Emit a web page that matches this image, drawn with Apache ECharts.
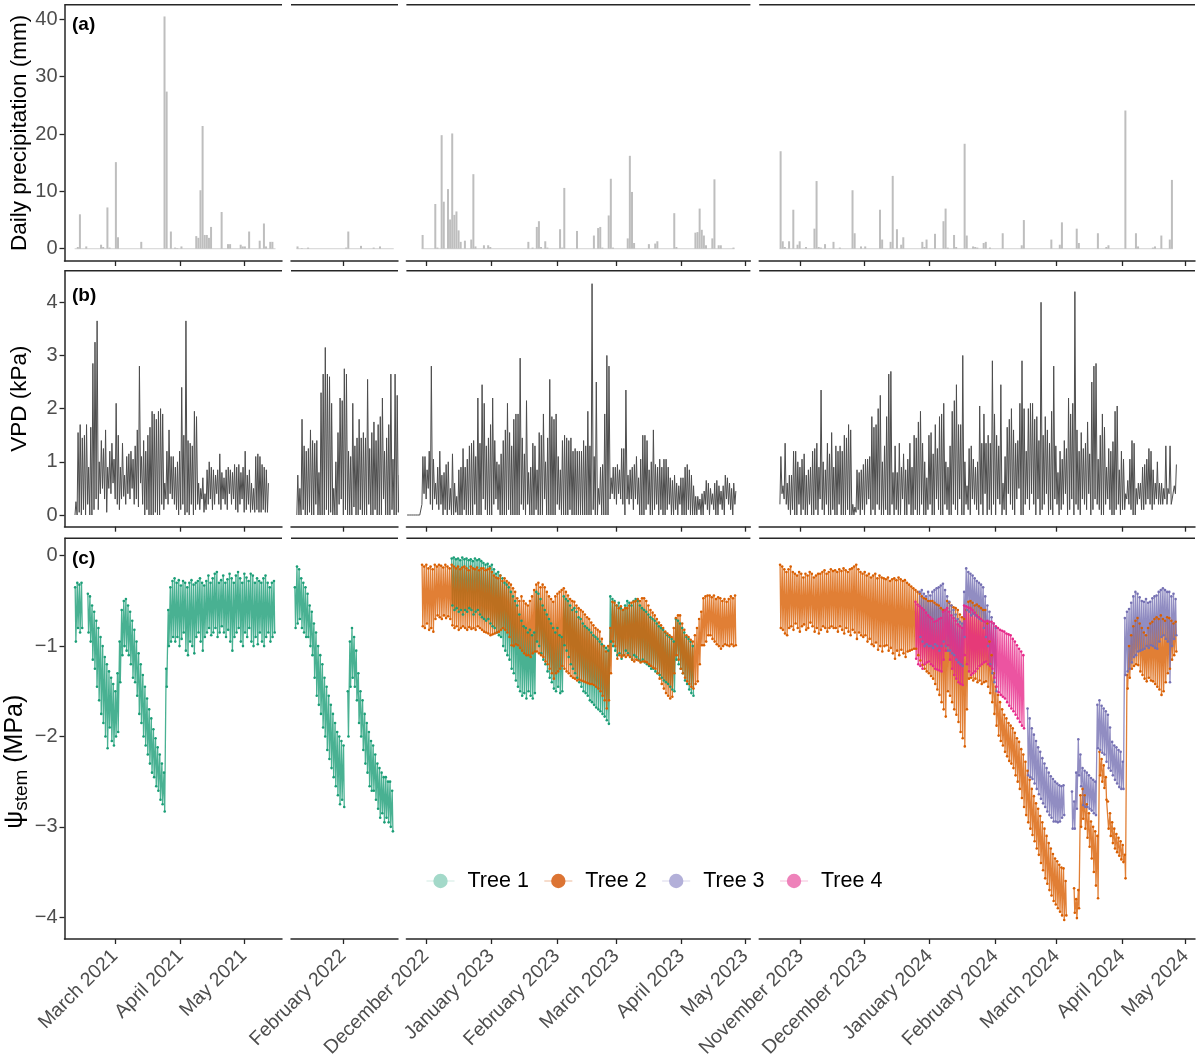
<!DOCTYPE html>
<html>
<head>
<meta charset="utf-8">
<title>Precipitation, VPD and stem water potential</title>
<script src="https://cdn.jsdelivr.net/npm/echarts@6/dist/echarts.min.js"></script>
<style>
  html, body { margin: 0; padding: 0; background: #fff; }
  #chart { width: 1200px; height: 1056px; }
</style>
</head>
<body>
<div id="chart"></div>
<script>
// ---- facet periods (one column each) ----
const periodStart = ['2021-02-05T05:00', '2022-01-07T10:00', '2022-11-21T20:00', '2023-10-12T09:00'];
const periodEnd = ['2021-05-19T01:00', '2022-02-27T00:00', '2023-05-03T12:00', '2024-05-05T10:00'];

const monthTicks = [
  ['2021-03-01', '2021-04-01', '2021-05-01'],
  ['2022-02-01'],
  ['2022-12-01', '2023-01-01', '2023-02-01', '2023-03-01', '2023-04-01', '2023-05-01'],
  ['2023-11-01', '2023-12-01', '2024-01-01', '2024-02-01', '2024-03-01', '2024-04-01', '2024-05-01']
];
const monthLabels = [
  ['March 2021', 'April 2021', 'May 2021'],
  ['February 2022'],
  ['December 2022', 'January 2023', 'February 2023', 'March 2023', 'April 2023', 'May 2023'],
  ['November 2023', 'December 2023', 'January 2024', 'February 2024', 'March 2024', 'April 2024', 'May 2024']
];
const rainTicks = [0, 10, 20, 30, 40];
const vpdTicks = [0, 1, 2, 3, 4];
const psiTicks = [0, -1, -2, -3, -4];

// ---- (a) daily precipitation, mm (days without rain left out) ----
const rainSpan = [['2021-02-10', '2021-05-15'], ['2022-01-10', '2022-02-24'], ['2022-11-29', '2023-04-25'], ['2023-10-22', '2024-04-24']];
const rain1 = [['2021-02-11', 0.3], ['2021-02-12', 6.0], ['2021-02-15', 0.4], ['2021-02-22', 0.7], ['2021-02-23', 0.3],
  ['2021-02-25', 7.2], ['2021-02-26', 0.2], ['2021-03-01', 15.1], ['2021-03-02', 2.0], ['2021-03-13', 1.2],
  ['2021-03-24', 40.5], ['2021-03-25', 27.4], ['2021-03-27', 3.0], ['2021-03-29', 0.2], ['2021-03-30', 0.1],
  ['2021-04-01', 0.4], ['2021-04-08', 2.2], ['2021-04-09', 1.9], ['2021-04-10', 10.2], ['2021-04-11', 21.4],
  ['2021-04-12', 2.4], ['2021-04-13', 2.4], ['2021-04-14', 1.9], ['2021-04-15', 3.8], ['2021-04-20', 6.4],
  ['2021-04-23', 0.8], ['2021-04-24', 0.8], ['2021-04-29', 0.7], ['2021-04-30', 0.4], ['2021-05-01', 0.4],
  ['2021-05-03', 3.0], ['2021-05-08', 1.4], ['2021-05-10', 4.4], ['2021-05-11', 0.4], ['2021-05-13', 1.2], ['2021-05-14', 1.2]];
const rain2 = [['2022-01-10', 0.4], ['2022-01-12', 0.1], ['2022-01-15', 0.2], ['2022-02-02', 0.2], ['2022-02-03', 3.0],
  ['2022-02-09', 0.5], ['2022-02-15', 0.2], ['2022-02-18', 0.4]];
const rain3 = [['2022-11-29', 2.4], ['2022-12-05', 7.8], ['2022-12-06', 0.2], ['2022-12-08', 19.8], ['2022-12-09', 8.2],
  ['2022-12-11', 10.4], ['2022-12-12', 5.1], ['2022-12-13', 20.1], ['2022-12-14', 5.9], ['2022-12-15', 6.5],
  ['2022-12-16', 3.2], ['2022-12-17', 1.2], ['2022-12-19', 1.4], ['2022-12-22', 1.6], ['2022-12-23', 13.0],
  ['2022-12-24', 0.4], ['2022-12-28', 0.6], ['2022-12-30', 0.6], ['2022-12-31', 0.3], ['2023-01-18', 1.2],
  ['2023-01-20', 0.2], ['2023-01-22', 3.8], ['2023-01-23', 4.8], ['2023-01-24', 0.3], ['2023-01-26', 1.3],
  ['2023-01-27', 0.2], ['2023-02-02', 3.4], ['2023-02-03', 0.2], ['2023-02-04', 10.6], ['2023-02-10', 3.1],
  ['2023-02-18', 2.3], ['2023-02-20', 3.6], ['2023-02-21', 3.8], ['2023-02-22', 0.2], ['2023-02-25', 5.8],
  ['2023-02-26', 12.2], ['2023-02-27', 0.2], ['2023-03-06', 1.8], ['2023-03-07', 16.2], ['2023-03-08', 9.9],
  ['2023-03-09', 1.0], ['2023-03-16', 0.8], ['2023-03-19', 0.9], ['2023-03-20', 1.3], ['2023-03-28', 6.2],
  ['2023-03-29', 0.3], ['2023-04-07', 2.8], ['2023-04-08', 2.9], ['2023-04-09', 7.0], ['2023-04-10', 3.3],
  ['2023-04-11', 2.3], ['2023-04-12', 0.6], ['2023-04-15', 1.8], ['2023-04-16', 12.1], ['2023-04-18', 0.6],
  ['2023-04-19', 0.6], ['2023-04-25', 0.2]];
const rain4 = [['2023-10-22', 17.0], ['2023-10-23', 1.3], ['2023-10-24', 0.3], ['2023-10-26', 1.3], ['2023-10-28', 6.8],
  ['2023-10-30', 0.7], ['2023-10-31', 1.3], ['2023-11-03', 0.3], ['2023-11-07', 3.5], ['2023-11-08', 11.8],
  ['2023-11-09', 0.3], ['2023-11-10', 0.2], ['2023-11-12', 0.8], ['2023-11-16', 1.2], ['2023-11-19', 0.2],
  ['2023-11-25', 10.2], ['2023-11-26', 2.7], ['2023-11-29', 0.4], ['2023-12-01', 0.4], ['2023-12-08', 6.8],
  ['2023-12-09', 1.6], ['2023-12-13', 1.2], ['2023-12-14', 12.7], ['2023-12-16', 3.4], ['2023-12-18', 0.7],
  ['2023-12-19', 2.0], ['2023-12-28', 1.2], ['2023-12-29', 0.3], ['2023-12-30', 1.6], ['2024-01-03', 2.6],
  ['2024-01-07', 4.8], ['2024-01-08', 7.0], ['2024-01-09', 0.2], ['2024-01-12', 2.4], ['2024-01-13', 0.3],
  ['2024-01-17', 18.3], ['2024-01-18', 2.3], ['2024-01-21', 0.4], ['2024-01-22', 0.3], ['2024-01-23', 0.2],
  ['2024-01-26', 1.0], ['2024-01-27', 1.2], ['2024-01-29', 0.2], ['2024-02-04', 2.7], ['2024-02-13', 0.6],
  ['2024-02-14', 5.0], ['2024-02-27', 1.6], ['2024-03-02', 0.7], ['2024-03-03', 4.6], ['2024-03-10', 3.5],
  ['2024-03-11', 1.0], ['2024-03-20', 2.7], ['2024-03-24', 0.3], ['2024-03-25', 0.6], ['2024-04-02', 24.1],
  ['2024-04-07', 2.7], ['2024-04-08', 0.4], ['2024-04-15', 0.2], ['2024-04-16', 0.4], ['2024-04-19', 2.3],
  ['2024-04-23', 1.6], ['2024-04-24', 12.0]];

// ---- (b) VPD, kPa: daily afternoon peak and night minimum ----
const vpdStart = ['2021-02-10', '2022-01-10', '2022-11-22', '2023-10-22'];
const vpdPeak1 = [0.25, 1.55, 1.7, 1.45, 1.5, 1.7, 0.9, 1.65, 2.85, 3.25,
  3.65, 1.0, 1.4, 1.25, 1.6, 0.9, 1.2, 1.35, 1.05, 2.1,
  1.5, 0.9, 1.35, 0.75, 1.1, 1.15, 1.2, 1.05, 1.3, 1.6,
  2.8, 1.1, 1.4, 1.2, 1.5, 1.65, 1.95, 1.9, 1.8, 1.95,
  2.0, 1.9, 0.6, 1.2, 1.6, 1.1, 1.1, 0.9, 1.0, 1.2,
  2.4, 1.5, 3.65, 1.4, 1.35, 1.3, 1.95, 1.85, 0.6, 0.5,
  0.7, 0.4, 0.85, 1.0, 0.9, 0.85, 0.75, 0.85, 1.15, 0.8,
  0.7, 0.85, 0.9, 0.85, 0.8, 0.95, 0.9, 0.95, 0.8, 0.9,
  1.2, 0.75, 0.85, 0.6, 0.5, 1.1, 1.15, 1.1, 0.95, 0.9,
  0.85, 0.6];
const vpdMin1 = [0, 0, 0.05, 0, 0.1, 0, 0.2, 0, 0, 0.1,
  0.3, 0.1, 0.4, 0.5, 0.3, 0.05, 0.5, 0.4, 0.6, 0.3,
  0.2, 0.1, 0.3, 0.35, 0.2, 0.4, 0.3, 0.5, 0.2, 0.3,
  0.15, 0.6, 0.2, 0, 0.1, 0, 0, 0, 0.05, 0,
  0, 0.2, 0.1, 0.3, 0.2, 0.4, 0.3, 0.2, 0.1, 0,
  0.1, 0.2, 0, 0.05, 0, 0.2, 0, 0.1, 0.2, 0.1,
  0.3, 0.05, 0.1, 0.2, 0.3, 0.1, 0.2, 0.4, 0.2, 0.1,
  0.3, 0.2, 0.1, 0.4, 0.2, 0.3, 0.1, 0.05, 0.2, 0.3,
  0.05, 0.1, 0.2, 0.05, 0.1, 0.05, 0.1, 0.05, 0.05, 0.1,
  0.05, 0.05];
const vpdPeak2 = [0.75, 0.5, 1.8, 1.3, 1.2, 1.25, 1.6, 1.4, 1.35, 1.4,
  0.8, 2.3, 2.65, 3.15, 2.65, 2.6, 2.1, 0.5, 1.0, 1.55,
  2.2, 2.15, 2.75, 2.65, 1.2, 1.1, 2.1, 1.3, 1.45, 1.8,
  1.45, 1.55, 1.45, 2.55, 1.25, 1.55, 1.75, 1.4, 1.7, 1.85,
  2.2, 1.2, 1.45, 1.7, 2.65, 1.05, 2.65, 2.25, 0.75, 1.5];
const vpdMin2 = [0, 0, 0, 0.1, 0, 0, 0.05, 0, 0, 0.2,
  0, 0, 0, 0, 0.1, 0, 0.05, 0, 0, 0,
  0.2, 0.3, 0, 0.1, 0, 0, 0, 0.15, 0, 0,
  0.1, 0, 0, 0, 0.2, 0, 0, 0.1, 0, 0,
  0, 0.3, 0, 0, 0, 0.1, 0, 0, 0.05, 0];
const vpdPeak3 = [0, 0, 0, 0, 0, 0, 0,
  1.1, 1.1, 0.85, 1.2, 2.8, 1.05, 0.6, 0.9, 1.2, 0.75,
  0.8, 0.95, 1.0, 0.5, 1.15, 0.6, 0.35, 0.85, 0.9, 1.25,
  0.9, 1.05, 1.3, 1.35, 1.4, 1.1, 2.2, 1.35, 2.45, 2.1,
  1.3, 1.45, 1.7, 2.2, 1.4, 1.0, 0.95, 1.15, 1.4, 1.6,
  2.1, 1.55, 1.3, 1.8, 1.9, 1.9, 2.95, 1.45, 1.15, 2.15,
  0.8, 0.9, 1.35, 1.3, 0.85, 1.55, 1.5, 1.9, 1.0, 1.45,
  2.55, 1.85, 1.8, 1.9, 1.1, 0.85, 1.4, 1.5, 1.45, 1.4,
  1.45, 1.2, 1.25, 1.2, 1.2, 1.2, 1.4, 1.3, 1.95, 1.3,
  4.35, 1.1, 2.5, 0.5, 0.9, 0.95, 1.9, 3.0, 2.8, 0.7,
  0.9, 0.9, 0.95, 0.85, 1.25, 1.25, 2.35, 0.75, 0.85, 0.9,
  0.95, 1.1, 0.7, 1.05, 1.5, 1.5, 1.4, 0.85, 1.0, 1.6,
  0.95, 0.9, 1.05, 0.9, 1.05, 1.05, 0.9, 0.7, 0.65, 0.75,
  0.6, 0.55, 0.7, 0.7, 0.9, 0.95, 0.85, 0.75, 0.55, 0.35,
  0.35, 0.3, 0.4, 0.45, 0.65, 0.6, 0.5, 0.4, 0.6, 0.65,
  0.55, 0.45, 0.55, 0.75, 0.7, 0.6, 0.5, 0.6, 0.45];
const vpdMin3 = [0, 0, 0, 0, 0, 0, 0,
  0.2, 0.4, 0.3, 0.5, 0.2, 0.1, 0.3, 0.2, 0.1, 0.2,
  0, 0.1, 0, 0.1, 0, 0, 0.05, 0, 0, 0,
  0.1, 0, 0, 0, 0, 0.2, 0, 0, 0, 0.3,
  0.1, 0, 0, 0, 0.2, 0.3, 0.1, 0, 0, 0,
  0, 0.1, 0, 0, 0, 0, 0, 0.2, 0.1, 0,
  0.2, 0, 0, 0, 0.1, 0, 0, 0, 0.3, 0,
  0, 0, 0, 0, 0.2, 0.1, 0, 0, 0, 0,
  0.1, 0, 0, 0, 0, 0, 0, 0, 0, 0,
  0, 0.1, 0, 0, 0.2, 0, 0, 0, 0, 0.3,
  0.4, 0.3, 0.2, 0.4, 0.3, 0.2, 0, 0.3, 0.2, 0.3,
  0.1, 0.3, 0.2, 0, 0, 0, 0.1, 0.2, 0, 0,
  0.1, 0.2, 0, 0.1, 0, 0, 0.1, 0.2, 0, 0,
  0.1, 0, 0.2, 0, 0, 0, 0.1, 0, 0, 0,
  0, 0.1, 0, 0, 0.2, 0.1, 0, 0.2, 0.1, 0,
  0, 0.2, 0.1, 0, 0.3, 0.2, 0.1, 0, 0.2];
const vpdPeak4 = [1.1, 0.55, 1.35, 0.6, 0.75, 0.75, 1.2, 1.2, 1.0, 0.9,
  1.05, 1.15, 0.75, 0.85, 0.9, 1.2, 1.25, 1.35, 0.9, 2.35,
  1.0, 0.85, 1.35, 1.15, 1.55, 0.9, 1.3, 1.2, 1.3, 1.2,
  1.5, 1.45, 1.7, 1.6, 0.2, 0.15, 0.85, 0.8, 0.85, 0.95,
  1.05, 1.05, 1.1, 1.85, 1.65, 1.7, 2.0, 2.25, 1.0, 1.3,
  1.85, 2.65, 2.7, 0.8, 1.3, 0.8, 1.35, 0.9, 1.15, 0.85,
  1.05, 1.35, 0.9, 1.5, 1.45, 1.75, 1.95, 1.35, 1.0, 0.7,
  1.5, 1.55, 1.15, 1.7, 1.25, 1.85, 1.9, 2.1, 1.0, 0.9,
  1.3, 1.95, 2.15, 2.45, 1.7, 1.7, 3.0, 1.0, 0.55, 1.25,
  1.3, 1.05, 0.9, 1.0, 2.05, 1.35, 1.9, 1.35, 1.5, 1.35,
  2.9, 1.9, 1.5, 1.3, 2.45, 0.6, 1.1, 1.65, 1.8, 2.0,
  1.6, 1.35, 1.4, 2.1, 2.9, 2.0, 1.2, 2.0, 2.1, 2.1,
  1.8, 1.85, 1.4, 4.0, 1.5, 1.85, 1.6, 1.35, 1.95, 2.8,
  1.3, 0.8, 1.2, 1.05, 1.4, 1.25, 2.2, 1.9, 2.1, 4.2,
  1.6, 1.2, 1.55, 1.25, 1.35, 1.75, 1.15, 2.5, 2.8, 2.85,
  1.05, 1.5, 1.9, 1.65, 0.9, 1.25, 1.2, 1.38, 1.95, 2.05,
  0.85, 1.2, 1.05, 0.4, 0.65, 1.05, 1.4, 1.35, 0.5, 0.6,
  0.6, 0.9, 0.95, 1.05, 1.25, 1.2, 0.85, 0.6, 1.0, 0.6,
  0.6, 0.5, 1.3, 0.5, 1.3, 0.3, 0.55, 0.95];
const vpdMin4 = [0.2, 0.4, 0.3, 0.2, 0.1, 0, 0.1, 0, 0, 0.2,
  0, 0.1, 0, 0, 0.2, 0, 0, 0.1, 0, 0.3,
  0.1, 0, 0.2, 0, 0, 0.1, 0, 0, 0.2, 0,
  0, 0, 0.1, 0, 0, 0, 0.05, 0.1, 0, 0.1,
  0, 0.2, 0.3, 0, 0.1, 0, 0.2, 0.1, 0, 0,
  0.1, 0, 0, 0.2, 0, 0.1, 0, 0, 0.3, 0,
  0, 0.2, 0, 0, 0.1, 0, 0, 0.2, 0, 0,
  0.1, 0.2, 0, 0, 0.3, 0.1, 0, 0, 0.2, 0.1,
  0, 0, 0.2, 0.1, 0, 0.3, 0, 0, 0.2, 0.1,
  0, 0.3, 0.2, 0.1, 0, 0.2, 0, 0.4, 0, 0.1,
  0, 0.2, 0, 0.3, 0.2, 0, 0.1, 0, 0.4, 0.2,
  0.1, 0, 0.3, 0.5, 0, 0, 0.2, 0.3, 0.1, 0.4,
  0.2, 0, 0.3, 0, 0.1, 0.2, 0.4, 0, 0.1, 0,
  0.3, 0.2, 0, 0.1, 0.2, 0.4, 0, 0.1, 0.3, 0,
  0.2, 0.1, 0, 0.3, 0.2, 0.1, 0.4, 0, 0.1, 0.3,
  0.2, 0.1, 0, 0, 0.2, 0.3, 0.1, 0, 0, 0.1,
  0.2, 0, 0.1, 0.1, 0.3, 0.2, 0.1, 0, 0, 0.2,
  0.3, 0.1, 0.1, 0.2, 0.3, 0.2, 0.1, 0.2, 0.3, 0.2,
  0.2, 0.2, 0.3, 0.2, 0.4, 0.2, 0.3, 0.4];

// ---- (c) stem water potential, MPa: daily predawn (up) and midday (lo) ----
const treeNames = ['Tree 1', 'Tree 2', 'Tree 3', 'Tree 4'];
const t1aUp = [-0.35, -0.3, -0.32, -0.3, null, null,
  -0.42, -0.45, -0.55, -0.62, -0.72, -0.8, -0.9, -1.0, -1.12, -1.2, -1.28, -1.35, -1.42, -1.5,
  -1.3, -0.95, -0.6, -0.5, -0.48,
  -0.55, -0.62, -0.72, -0.82, -0.95, -1.08, -1.2, -1.32, -1.45, -1.58, -1.7, -1.8, -1.92, -2.02, -2.12, -2.2, -2.3, -2.4,
  -1.25, -0.6, -0.35, -0.28,
  -0.25, -0.3, -0.27, -0.33, -0.28, -0.3, -0.35, -0.3, -0.27, -0.32,
  -0.3, -0.28, -0.25, -0.3, -0.33, -0.28, -0.22, -0.3, -0.25, -0.2,
  -0.18, -0.3, -0.27, -0.22, -0.3, -0.26, -0.2, -0.25, -0.3, -0.22,
  -0.18, -0.25, -0.3, -0.2, -0.24, -0.28, -0.2, -0.22, -0.3, -0.25,
  -0.28, -0.3, -0.25, -0.22, -0.3, -0.35, -0.3, -0.28];
const t1aLo = [-0.95, -0.8, -0.85, -0.8, null, null,
  -0.85, -0.95, -1.15, -1.25, -1.45, -1.6, -1.75, -1.85, -2.0, -2.13, -1.9, -2.05, -2.1, -2.0,
  -1.95, -1.4, -1.1, -1.0, -1.05,
  -1.1, -1.2, -1.35, -1.4, -1.55, -1.75, -1.85, -2.0, -2.1, -2.2, -2.3, -2.4, -2.45, -2.55, -2.6, -2.7, -2.75, -2.83,
  -1.45, -1.0, -0.95, -0.9,
  -0.95, -0.9, -1.0, -0.92, -0.85, -1.05, -1.1, -0.95, -1.0, -1.08,
  -0.9, -0.85, -0.95, -1.05, -0.9, -0.85, -0.8, -0.88, -0.85, -0.8,
  -0.9, -0.85, -0.78, -0.85, -0.9, -0.82, -0.95, -1.05, -0.9, -0.85,
  -0.8, -0.95, -1.0, -0.85, -0.9, -0.8, -0.95, -1.0, -0.9, -0.98,
  -0.85, -0.95, -1.0, -0.9, -0.85, -0.95, -0.9, -0.85];
const t1bUp = [-0.35, -0.12, -0.15, -0.25, -0.3, -0.35, -0.42, -0.55, -0.62, -0.75,
  -0.85, -1.0, -1.1, -1.2, -1.35, -1.45, -1.55, -1.65, -1.75, -1.85,
  -1.95, -2.0, -2.05, -2.1, null, -1.5, -0.95, -0.8, -0.9, -1.05,
  -1.3, -1.5, -1.6, -1.75, -1.85, -1.95, -2.05, -2.1, -2.2, -2.3,
  -2.35, -2.4, -2.45, -2.45, -2.5, -2.5, -2.6];
const t1bLo = [-0.8, -0.75, -0.7, -0.8, -0.85, -0.9, -0.9, -1.0, -1.1, -1.35,
  -1.55, -1.65, -1.75, -1.9, -2.0, -2.15, -2.25, -2.35, -2.45, -2.55,
  -2.65, -2.75, -2.7, -2.78, null, -2.0, -1.45, -1.35, -1.45, -1.6,
  -1.85, -2.0, -2.15, -2.3, -2.4, -2.55, -2.6, -2.6, -2.7, -2.8,
  -2.9, -2.85, -2.95, -2.9, -2.95, -3.0, -3.05];
const t1cUp = [-0.03, -0.02, -0.04, -0.03, -0.05, -0.02, -0.04, -0.03, -0.05, -0.04, -0.06, -0.03, -0.05, -0.04, -0.06,
  -0.08, -0.1, -0.09, -0.12, -0.1, -0.15, -0.2, -0.18, -0.22, -0.25, -0.3, -0.32, -0.35,
  -0.4, -0.45, -0.5, -0.55, -0.65, -0.72, -0.78, -0.8, -0.85, -0.82, -0.88, -0.85,
  -0.4, -0.42, -0.48, -0.55, -0.6, -0.65, -0.7, -0.75, -0.8, -0.85, -0.8, -0.88, -0.9,
  -0.45, -0.48, -0.5, -0.55, -0.6, -0.58, -0.62, -0.68, -0.7, -0.75, -0.78, -0.8, -0.82, -0.85, -0.88, -0.9,
  -0.92, -0.95, -0.98, -1.0, -1.02, -1.05,
  -0.45, -0.48,
  -0.5, -0.55, -0.52, -0.58, -0.6, -0.55, -0.5, -0.52, -0.55, -0.5, -0.48, -0.5, -0.55, -0.58, -0.6, -0.62,
  -0.65, -0.68, -0.7, -0.72, -0.75, -0.78, -0.8, -0.82, -0.85,
  -0.88, -0.9, -0.92, -0.95,
  -0.7, -0.72, -0.75, -0.8, -0.85, -0.9, -0.92, -0.95, -1.0];
const t1cLo = [-0.55, -0.6, -0.58, -0.62, -0.6, -0.65, -0.6, -0.62, -0.58, -0.6, -0.65, -0.62, -0.6, -0.65, -0.68,
  -0.7, -0.72, -0.7, -0.75, -0.78, -0.8, -0.85, -0.88, -0.9, -1.0, -1.05, -1.1, -1.15,
  -1.25, -1.3, -1.38, -1.45, -1.5, -1.55, -1.52, -1.58, -1.5, -1.55, -1.58, -1.52,
  -0.95, -1.0, -1.08, -1.15, -1.2, -1.28, -1.35, -1.4, -1.47, -1.5, -1.45, -1.52, -1.5,
  -0.99, -1.05, -1.12, -1.2, -1.25, -1.3, -1.35, -1.4, -1.45, -1.5, -1.52, -1.55, -1.6, -1.62, -1.65, -1.68,
  -1.7, -1.72, -1.75, -1.78, -1.82, -1.86,
  -0.95, -1.0,
  -1.05, -1.1, -1.08, -1.14, -1.1, -1.05, -1.08, -1.12, -1.15, -1.1, -1.12, -1.15, -1.17, -1.15, -1.18, -1.2,
  -1.22, -1.25, -1.25, -1.28, -1.3, -1.32, -1.35, -1.38, -1.4,
  -1.42, -1.45, -1.48, -1.5,
  -1.15, -1.2, -1.25, -1.3, -1.38, -1.42, -1.48, -1.52, -1.55];
const t2cUp = [-0.1, -0.12, -0.1, -0.14, -0.12, -0.15, -0.1, -0.12, -0.1, -0.11, -0.13, -0.1, -0.12, -0.14,
  -0.1, -0.12, -0.14, -0.12, -0.15, -0.13, -0.12, -0.14, -0.16, -0.12, -0.14, -0.15, -0.13, -0.16, -0.14,
  -0.14, -0.16, -0.15, -0.14, -0.18, -0.22, -0.24,
  -0.25, -0.22, -0.28, -0.25, -0.28, -0.3,
  -0.32, -0.36, -0.4, -0.47, -0.5, -0.45, -0.5, -0.53,
  -0.55, -0.5, -0.45, -0.38,
  -0.32, -0.3, -0.35, -0.32, -0.35, -0.4, -0.45, -0.48,
  -0.51, -0.45, -0.42, -0.4, -0.38,
  -0.36, -0.4, -0.44, -0.48, -0.5,
  -0.51, -0.55, -0.58, -0.6,
  -0.62, -0.65, -0.68, -0.7, -0.74,
  -0.77, -0.8, -0.82, -0.84, -0.92, -1.0,
  -1.06, -1.0, -0.8,
  -0.51, -0.52,
  -0.55, -0.58, -0.56, -0.6, -0.58,
  -0.58, -0.55, -0.52,
  -0.51, -0.5, -0.48, -0.5, -0.47,
  -0.47, -0.5, -0.55, -0.6, -0.63,
  -0.66, -0.7, -0.74, -0.77,
  -0.8, -0.84, -0.86,
  -0.88, -0.9, -0.8,
  -0.69, -0.66,
  -0.66, -0.75, -0.82,
  -0.88, -0.9, -0.93,
  -0.95, -0.88,
  -0.8, -0.7,
  -0.62, -0.47, -0.45, -0.44,
  -0.44, -0.46, -0.44, -0.48, -0.46,
  -0.47, -0.5, -0.48,
  -0.51, -0.48, -0.45, -0.47, -0.44];
const t2cLo = [-0.78, -0.8, -0.75, -0.82, -0.8, -0.84, -0.7, -0.66, -0.68, -0.7, -0.66, -0.69, -0.67, -0.7,
  -0.77, -0.8, -0.78, -0.82, -0.8, -0.78, -0.8, -0.82, -0.79, -0.81, -0.8, -0.82, -0.78, -0.8, -0.82,
  -0.84, -0.85, -0.86, -0.88, -0.87, -0.86, -0.85,
  -0.84, -0.82, -0.8, -0.82, -0.85, -0.9,
  -0.99, -1.0, -0.98, -0.99, -1.02, -1.05, -1.08, -1.1,
  -1.1, -1.12, -1.08, -1.06,
  -1.06, -1.08, -1.1, -1.12, -1.17, -1.2, -1.25, -1.3,
  -1.36, -1.3, -1.28, -1.25, -1.22,
  -1.25, -1.28, -1.3, -1.33, -1.35,
  -1.36, -1.38, -1.37, -1.38,
  -1.39, -1.4, -1.41, -1.42, -1.42,
  -1.43, -1.45, -1.47, -1.5, -1.55, -1.6,
  -1.69, -1.6, -1.3,
  -0.95, -1.0,
  -1.14, -1.1, -1.12, -1.1, -1.12,
  -1.1, -1.12, -1.15,
  -1.17, -1.15, -1.16, -1.18, -1.17,
  -1.17, -1.18, -1.2, -1.22, -1.24,
  -1.25, -1.3, -1.36, -1.42,
  -1.47, -1.52, -1.55,
  -1.58, -1.56, -1.3,
  -1.1, -1.15,
  -1.25, -1.3, -1.35,
  -1.39, -1.42, -1.45,
  -1.47, -1.42,
  -1.39, -1.2,
  -0.99, -0.99, -0.95, -0.88,
  -0.88, -0.92, -0.95, -0.98, -1.0,
  -1.03, -1.0, -0.98,
  -0.99, -1.0, -0.98, -1.0, -0.99];
const t2dUp = [-0.1, -0.12, -0.15, -0.18, -0.15, -0.12, -0.18,
  -0.2, -0.22, -0.18, -0.2, -0.24, -0.2, -0.22, -0.18, -0.2, -0.24, -0.22, -0.2,
  -0.2, -0.18, -0.16, -0.2, -0.18, -0.15, -0.17,
  -0.16, -0.18, -0.15, -0.17, -0.14, -0.16, -0.18, -0.15, -0.14, -0.12,
  -0.1, -0.15, -0.18,
  -0.2, -0.18, -0.22, -0.2, -0.24, -0.22, -0.2, -0.25, -0.22, -0.24,
  -0.25, -0.26, -0.24, -0.28, -0.26, -0.25, -0.27, -0.24, -0.26, -0.28, -0.27, -0.3,
  -0.32, -0.34, -0.36,
  -0.38, -0.4, -0.42,
  -0.45, -0.47, -0.48, -0.5, -0.5,
  -0.5, -0.52, -0.54,
  -0.55, -0.58, -0.6,
  -0.6, -0.5, -0.52,
  -0.55, -0.57, -0.58,
  -0.6, -0.65, -0.68,
  -0.7, -0.6,
  -0.51, -0.5, -0.52, -0.55, -0.54, -0.56, -0.58, -0.6,
  -0.6, -0.75, -0.95,
  -1.1, -1.3, -1.45,
  -1.54, -1.62, -1.7,
  -1.76, -1.8, -1.85, -1.88,
  -1.91, -1.96, -2.02,
  -2.06, -2.14, -2.2,
  -2.28, -2.38, -2.48,
  -2.58, -2.66, -2.74,
  -2.8, -2.88, -2.95,
  -3.02, -3.1, -3.18,
  -3.24, -3.3, -3.35, -3.38,
  -3.42, -3.45, -3.46, -3.6,
  null, null, null,
  -3.68, -3.8, -3.7,
  -2.65, -2.58, -2.65, -2.75, -2.85, -2.94, -3.0, -3.05, -3.1,
  -2.17, -2.25, -2.32, -2.45, -2.72, -2.85, -2.95,
  -3.02, -3.08, -3.12, -3.16, -3.2, -3.31,
  -1.32, -1.0, -0.88, -0.78, -0.72, -0.69, -0.75,
  -0.8, -0.85, -0.88, -0.8, -0.75, -0.73,
  -0.7, -0.68, -0.7, -0.66, -0.7, -0.72, -0.68,
  -0.69, -0.72, -0.75, -0.73];
const t2dLo = [-0.8, -0.82, -0.86, -0.88, -0.8, -0.78, -0.82,
  -0.75, -0.8, -0.84, -0.78, -0.76, -0.82, -0.8, -0.74, -0.78, -0.84, -0.8, -0.86,
  -0.82, -0.78, -0.8, -0.84, -0.8, -0.78, -0.8,
  -0.8, -0.84, -0.78, -0.82, -0.86, -0.8, -0.84, -0.88, -0.82, -0.85,
  -0.92, -0.85, -0.88,
  -0.9, -0.88, -0.95, -0.92, -0.98, -1.0, -0.96, -1.04, -1.0, -1.06,
  -1.0, -0.99, -1.05, -1.02, -1.08, -1.14, -1.05, -1.1, -1.04, -1.08, -1.12, -1.06,
  -1.05, -1.04, -1.03,
  -1.03, -1.1, -1.16,
  -1.21, -1.25, -1.28, -1.3, -1.33,
  -1.36, -1.42, -1.48,
  -1.54, -1.62, -1.7,
  -1.78, -1.5, -1.55,
  -1.62, -1.7, -1.76,
  -1.84, -1.95, -2.02,
  -2.11, -1.7,
  -1.36, -1.35, -1.38, -1.36, -1.4, -1.38, -1.42, -1.4,
  -1.39, -1.45, -1.52,
  -1.62, -1.75, -1.88,
  -1.99, -2.05, -2.1,
  -2.17, -2.22, -2.27, -2.3,
  -2.35, -2.43, -2.5,
  -2.58, -2.68, -2.78,
  -2.87, -2.95, -3.02,
  -3.09, -3.16, -3.24,
  -3.31, -3.4, -3.48,
  -3.57, -3.63, -3.7,
  -3.76, -3.82, -3.86, -3.9,
  -3.94, -3.98, -4.03, -3.98,
  null, null, null,
  -3.95, -4.01, -3.9,
  -3.0, -2.91, -3.02, -3.12, -3.22, -3.35, -3.5, -3.65, -3.79,
  -2.43, -2.5, -2.57, -2.7, -3.02, -3.1, -3.18,
  -3.24, -3.28, -3.32, -3.36, -3.39, -3.57,
  -1.47, -1.35, -1.25, -1.22, -1.2, -1.21, -1.28,
  -1.32, -1.36, -1.39, -1.35, -1.38, -1.39,
  -1.42, -1.45, -1.48, -1.54, -1.5, -1.4, -1.3,
  -1.25, -1.15, -1.1, -1.06];
const t3dUp = [-0.4, -0.38, -0.42, -0.45, -0.4,
  -0.44, -0.4, -0.38, -0.36, -0.35, -0.33,
  -0.31, -0.38, -0.45,
  -0.51, -0.55, -0.6, -0.65, -0.7,
  -0.73, -0.75, -0.4,
  -0.14, -0.18,
  -0.2, -0.22, -0.25, -0.28, -0.3, -0.32, -0.35,
  -0.45, -0.55, -0.62, -0.68, -0.75, -0.8,
  null, null, null, null, null, null, null, null, null, null, null, null, null, null,
  -1.69, -1.8,
  -1.91, -1.98, -2.05, -2.12,
  -2.17, -2.24, -2.3,
  -2.35, -2.4, -2.44,
  -2.47, -2.5, -2.52,
  -2.54, -2.55, -2.54,
  null, null, null,
  -2.61, -2.72, -2.4,
  -2.03, -2.2,
  -2.35, -2.38, -2.4,
  -2.43, -2.46, -2.48, -2.5,
  -1.65, -1.6, -1.66,
  -1.69, -1.72,
  -1.76, -1.9,
  -2.06, -2.1, -2.12, -2.15,
  -2.17, -2.28,
  -0.69, -0.62,
  -0.59, -0.52, -0.45,
  -0.4, -0.42, -0.46, -0.5,
  -0.51, -0.48, -0.52,
  -0.51, -0.47, -0.45,
  -0.44, -0.4, -0.38,
  -0.36, -0.38, -0.4,
  -0.4, -0.45, -0.42, -0.48];
const t3dLo = [-0.9, -0.95, -1.0, -0.98, -1.0,
  -1.0, -1.02, -0.98, -1.0, -1.05, -1.0,
  -0.95, -1.0, -1.05,
  -1.05, -1.08, -1.1, -1.15, -1.18,
  -1.2, -1.22, -0.9,
  -0.6, -0.62,
  -0.66, -0.64, -0.66, -0.68, -0.7, -0.72, -0.8,
  -0.9, -1.0, -1.2, -1.3, -1.4, -1.5,
  null, null, null, null, null, null, null, null, null, null, null, null, null, null,
  -2.43, -2.45,
  -2.47, -2.52, -2.58, -2.64,
  -2.69, -2.74, -2.78,
  -2.83, -2.87, -2.9,
  -2.94, -2.94, -2.95,
  -2.94, -2.9, -2.87,
  null, null, null,
  -3.02, -3.02, -2.8,
  -2.43, -2.55,
  -2.76, -2.78, -2.78,
  -2.8, -2.82, -2.85, -2.87,
  -2.13, -2.15, -2.18,
  -2.2, -2.28,
  -2.35, -2.38,
  -2.43, -2.48, -2.52, -2.56,
  -2.58, -2.58,
  -1.32, -1.28,
  -1.25, -1.18, -1.12,
  -1.1, -1.06, -1.05, -1.04,
  -1.03, -1.0, -1.02,
  -0.99, -1.0, -1.02,
  -1.03, -0.95, -0.9,
  -0.88, -0.92, -0.95,
  -1.4, -1.0, -0.92, -0.88];
const t4dUp = [-0.51, -0.54, -0.56, -0.58, -0.6, -0.63, -0.66, -0.68, -0.7, -0.73, -0.72, -0.7,
  -0.69, -0.62, -0.6, -0.58, -0.62, -0.66, -0.69, -0.72, -0.76, -0.78, -0.8,
  -0.55, -0.56, -0.57, -0.58, -0.6, -0.63, -0.66, -0.68, -0.7, -0.72,
  -0.73, -0.72, -0.73, -0.73, -0.75, -0.78, -0.8, -0.82, -0.83,
  -0.84, -0.86, -0.87, -0.88, -0.92, -0.95, -0.99, -1.03, -1.06, -1.1];
const t4dLo = [-1.14, -1.2, -1.22, -1.25, -1.2, -1.18, -1.17, -1.2, -1.22, -1.25, -1.26, -1.27,
  -1.28, -1.15, -1.05, -0.99, -1.15, -1.25, -1.32, -1.36, -1.4, -1.42, -1.43,
  -1.1, -1.2, -1.28, -1.32, -1.3, -1.28, -1.25, -1.22, -1.2, -1.18,
  -1.17, -1.2, -1.22, -1.25, -1.35, -1.45, -1.51, -1.54, -1.56,
  -1.58, -1.62, -1.66, -1.69, -1.72, -1.76, -1.8, -1.84, -1.88, -1.91];

const psiRuns = [
  { tree: 'Tree 1', col: 0, start: '2021-02-10', up: t1aUp, lo: t1aLo },
  { tree: 'Tree 1', col: 1, start: '2022-01-09', up: t1bUp, lo: t1bLo },
  { tree: 'Tree 1', col: 2, start: '2022-12-13', up: t1cUp, lo: t1cLo },
  { tree: 'Tree 2', col: 2, start: '2022-11-29', up: t2cUp, lo: t2cLo },
  { tree: 'Tree 2', col: 3, start: '2023-10-22', up: t2dUp, lo: t2dLo },
  { tree: 'Tree 3', col: 3, start: '2023-12-27', up: t3dUp, lo: t3dLo },
  { tree: 'Tree 4', col: 3, start: '2023-12-25', up: t4dUp, lo: t4dLo }
];

// ---- layout / style ----
const FONT = "'Liberation Sans', Arial, Helvetica, sans-serif";
const AXIS = '#262626';
const TICK_TEXT = '#4d4d4d';
const treeColors = { 'Tree 1': '#1b9e77', 'Tree 2': '#d95f02', 'Tree 3': '#7570b3', 'Tree 4': '#e7298a' };
const legendColors = { 'Tree 1': '#a3d9c9', 'Tree 2': '#dc7433', 'Tree 3': '#b3b0d9', 'Tree 4': '#ee82ba' };
const colLeft = [64.5, 291, 406.4, 759.2];
const colWidth = [217.5, 107, 344, 435.8];
const rowTop = [4.7, 270.7, 538.3];
const rowHeight = [256.3, 256, 400.7];
const rowMin = [-2.14, -0.22, -4.241];
const rowMax = [42.55, 4.594, 0.193];
const rowTicks = [rainTicks, vpdTicks, psiTicks];

const H = 3600000, DAY = 86400000;
const toTime = s => Date.parse(s.length > 10 ? s + ':00Z' : s + 'T00:00:00Z');

function vpdPoints(start, peaks, mins) {
  const base = toTime(start);
  const out = [];
  peaks.forEach((p, k) => {
    const t = base + k * DAY;
    out.push([t + 4 * H, mins[k] ?? 0], [t + 15 * H, p]);
  });
  return out;
}

function psiPoints(start, up, lo) {
  const base = toTime(start);
  const out = [];
  up.forEach((u, k) => {
    const t = base + k * DAY;
    out.push([t + 6 * H, u === null ? '-' : u], [t + 14 * H, lo[k] === null ? '-' : lo[k]]);
  });
  return out;
}

const minus = v => (v < 0 ? '\u2212' + (-v) : String(v));

const chart = echarts.init(document.getElementById('chart'), null, { renderer: 'canvas' });

const grids = [], xAxes = [], yAxes = [], graphics = [];
const yNames = ['Daily precipitation (mm)', 'VPD (kPa)', '{m|\u03c8}{s|stem}{m| (MPa)}'];

for (let r = 0; r < 3; r++) {
  for (let c = 0; c < 4; c++) {
    const idx = r * 4 + c;
    grids.push({
      left: colLeft[c], top: rowTop[r], width: colWidth[c], height: rowHeight[r],
      containLabel: false, outerBoundsMode: 'none'
    });
    // date axis drawn as a numeric (ms) axis so month ticks can be placed exactly
    const ticks = monthTicks[c].map(toTime);
    const labelOf = {};
    ticks.forEach((t, i) => { labelOf[t] = monthLabels[c][i]; });
    xAxes.push({
      type: 'value', gridIndex: idx, scale: true,
      min: toTime(periodStart[c]), max: toTime(periodEnd[c]),
      axisLine: { show: true, onZero: false, lineStyle: { color: AXIS, width: 1.5 } },
      axisTick: { show: true, length: 5, customValues: ticks, lineStyle: { color: AXIS, width: 1.3 } },
      axisLabel: {
        show: r === 2, customValues: ticks, rotate: 45, margin: 14,
        fontSize: 19.5, color: TICK_TEXT, fontFamily: FONT,
        formatter: v => labelOf[v] || ''
      },
      splitLine: { show: false },
      minorTick: { show: false }
    });
    const yAxis = {
      type: 'value', gridIndex: idx, min: rowMin[r], max: rowMax[r],
      show: c === 0,
      axisLine: { show: true, onZero: false, lineStyle: { color: AXIS, width: 1.5 } },
      axisTick: { show: true, length: 5, customValues: rowTicks[r], lineStyle: { color: AXIS, width: 1.3 } },
      axisLabel: { customValues: rowTicks[r], fontSize: 20, color: TICK_TEXT, fontFamily: FONT, margin: 7, formatter: minus },
      splitLine: { show: false }
    };
    if (c === 0) {
      yAxis.name = yNames[r];
      yAxis.nameLocation = 'middle';
      yAxis.nameGap = r === 2 ? 30 : 33;
      yAxis.nameTextStyle = r === 2
        ? {
            color: '#000', fontFamily: FONT, padding: [0, 46, 0, 0],
            rich: {
              m: { fontSize: 25, fontFamily: FONT, color: '#000', lineHeight: 32 },
              s: { fontSize: 19, fontFamily: FONT, color: '#000', lineHeight: 19, verticalAlign: 'bottom' }
            }
          }
        : { color: '#000', fontSize: 22.5, fontFamily: FONT };
    }
    yAxes.push(yAxis);
    graphics.push({
      type: 'line', silent: true,
      shape: { x1: colLeft[c], y1: rowTop[r], x2: colLeft[c] + colWidth[c], y2: rowTop[r] },
      style: { stroke: AXIS, lineWidth: 1.5 }
    });
  }
}

[['(a)', 25], ['(b)', 295.5], ['(c)', 559]].forEach(([txt, y]) => {
  graphics.push({
    type: 'text', x: 72, y: y, silent: true,
    style: { text: txt, font: 'bold 19px ' + FONT, fill: '#000', verticalAlign: 'middle' }
  });
});

const series = [];
const rains = [rain1, rain2, rain3, rain4];
const vpdPeaks = [vpdPeak1, vpdPeak2, vpdPeak3, vpdPeak4];
const vpdMins = [vpdMin1, vpdMin2, vpdMin3, vpdMin4];

for (let c = 0; c < 4; c++) {
  // thin line for recorded days with zero rain
  series.push({
    type: 'line', xAxisIndex: c, yAxisIndex: c, silent: true, symbol: 'none', z: 1,
    lineStyle: { color: '#d3d3d3', width: 1 },
    data: [[toTime(rainSpan[c][0]), 0], [toTime(rainSpan[c][1]) + DAY, 0]]
  });
  series.push({
    type: 'bar', xAxisIndex: c, yAxisIndex: c, silent: true, barWidth: 2, z: 2,
    itemStyle: { color: '#bebebe' },
    data: rains[c].map(([d, v]) => [toTime(d) + 12 * H, v])
  });
  series.push({
    type: 'line', xAxisIndex: 4 + c, yAxisIndex: 4 + c, silent: true, symbol: 'none',
    lineStyle: { color: '#4d4d4d', width: 1.0 },
    data: vpdPoints(vpdStart[c], vpdPeaks[c], vpdMins[c])
  });
}

psiRuns.forEach(run => {
  series.push({
    type: 'line', name: run.tree,
    xAxisIndex: 8 + run.col, yAxisIndex: 8 + run.col,
    silent: true, connectNulls: false,
    symbol: 'circle', symbolSize: 2.6, showSymbol: true,
    itemStyle: { color: treeColors[run.tree] },
    lineStyle: { color: treeColors[run.tree], width: 1.3, opacity: 0.8 },
    data: psiPoints(run.start, run.up, run.lo)
  });
});

chart.setOption({
  backgroundColor: '#ffffff',
  animation: false,
  textStyle: { fontFamily: FONT },
  grid: grids,
  xAxis: xAxes,
  yAxis: yAxes,
  graphic: graphics,
  legend: {
    left: 421, top: 865, orient: 'horizontal',
    itemWidth: 28, itemHeight: 18, itemGap: 15, selectedMode: false,
    textStyle: { fontSize: 21.5, color: '#000', fontFamily: FONT, padding: [0, 0, 0, 8] },
    data: treeNames.map(n => ({
      name: n,
      itemStyle: { color: legendColors[n] },
      lineStyle: { color: legendColors[n], width: 1, opacity: 0.5 }
    }))
  },
  series: series
});

window.addEventListener('resize', () => chart.resize());
</script>
</body>
</html>
